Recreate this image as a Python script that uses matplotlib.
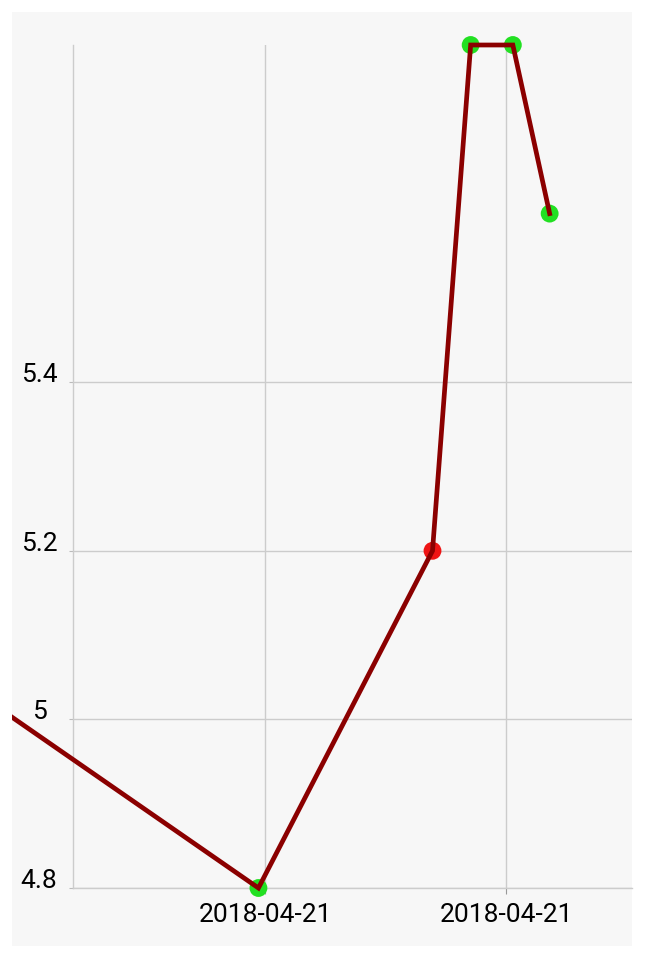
import matplotlib
matplotlib.use("Agg")
import matplotlib.pyplot as plt
import matplotlib.dates as mdates
from matplotlib.patches import Rectangle
import pandas as pd

plt.rcParams['font.family'] = ['Roboto', 'DejaVu Sans']

# data (first point sits left of the visible area)
times = pd.to_datetime(['2018-04-21 02:45', '2018-04-21 11:50', '2018-04-21 16:10',
                        '2018-04-21 17:07', '2018-04-21 18:10', '2018-04-21 19:05'])
values = [5.1, 4.8, 5.2, 5.8, 5.8, 5.6]
dot_colors = ['#22e022', '#22e022', '#ee1414', '#22e022', '#22e022', '#22e022']

tick_times = pd.to_datetime(['2018-04-21 12:00', '2018-04-21 18:00'])
y_ticks = [4.8, 5.0, 5.2, 5.4]
y_labels = ['4.8', '5', '5.2', '5.4']

W, H = 645, 960
fig = plt.figure(figsize=(W / 100, H / 100), dpi=100)
fig.patch.set_facecolor('white')

# light grey panel behind the chart
panel = Rectangle((12 / W, 1 - 946 / H), 620 / W, 934 / H, transform=fig.transFigure,
                  facecolor='#f7f7f7', edgecolor='none', zorder=0)
fig.add_artist(panel)

ax = fig.add_axes([73 / W, 1 - 888 / H, (632 - 73) / W, (888 - 45) / H])
ax.set_facecolor('none')
for side in ['top', 'right']:
    ax.spines[side].set_visible(False)
for side in ['left', 'bottom']:
    ax.spines[side].set_color('#cccccc')
    ax.spines[side].set_linewidth(1)

ax.set_ylim(4.8, 5.8)
ax.set_xlim(pd.Timestamp('2018-04-21 07:13'), pd.Timestamp('2018-04-21 21:08'))

ax.set_yticks(y_ticks)
ax.set_yticklabels(y_labels)
ax.set_xticks(tick_times)
ax.xaxis.set_major_formatter(mdates.DateFormatter('%Y-%m-%d'))

ax.grid(True, color='#cccccc', linewidth=1)
ax.tick_params(axis='y', length=3, color='#bbbbbb', pad=21.5, labelsize=19)
ax.tick_params(axis='x', length=4, color='#999999', pad=7, labelsize=19)
for lab in ax.get_yticklabels():
    lab.set_horizontalalignment('center')
    lab.set_verticalalignment('baseline')

ax.scatter(times, values, s=165, c=dot_colors, zorder=3, clip_on=False, linewidths=0)
line, = ax.plot(times, values, color='#8b0000', linewidth=3.4, zorder=4,
                solid_joinstyle='miter')
line.set_clip_path(panel)

fig.savefig('out.png', dpi=100)
